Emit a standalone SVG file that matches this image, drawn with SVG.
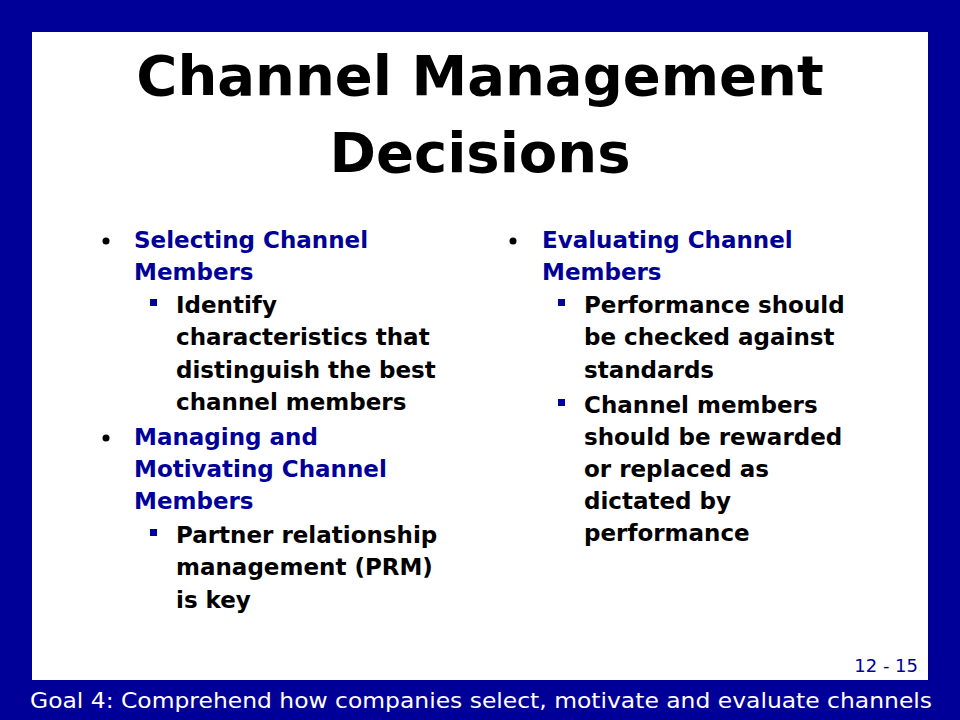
<svg xmlns="http://www.w3.org/2000/svg" width="960" height="720" viewBox="0 0 960 720">
<style>
.t{font-family:"DejaVu Sans",Verdana,sans-serif;font-weight:bold;font-size:56px;fill:#000;text-anchor:middle}
.h{font-family:"DejaVu Sans",Verdana,sans-serif;font-weight:bold;font-size:23px;fill:#000099}
.s{font-family:"DejaVu Sans",Verdana,sans-serif;font-weight:bold;font-size:23px;fill:#000}
.sq{fill:#000099}
</style>
<rect x="0" y="0" width="960" height="720" fill="#000099"/>
<rect x="32" y="32" width="896" height="648" fill="#fff"/>
<text class="t" x="480" y="95">Channel Management</text>
<text class="t" x="480" y="172">Decisions</text>
<g id="left">
<circle cx="106" cy="241" r="3.5" fill="#000"/>
<text class="h" x="134" y="248">Selecting Channel</text>
<text class="h" x="134" y="280">Members</text>
<rect class="sq" x="150" y="299" width="7" height="7"/>
<text class="s" x="176" y="313">Identify</text>
<text class="s" x="176" y="345">characteristics that</text>
<text class="s" x="176" y="378">distinguish the best</text>
<text class="s" x="176" y="410">channel members</text>
<circle cx="106" cy="438" r="3.5" fill="#000"/>
<text class="h" x="134" y="445">Managing and</text>
<text class="h" x="134" y="477">Motivating Channel</text>
<text class="h" x="134" y="509">Members</text>
<rect class="sq" x="150" y="529" width="7" height="7"/>
<text class="s" x="176" y="543">Partner relationship</text>
<text class="s" x="176" y="575">management (PRM)</text>
<text class="s" x="176" y="608">is key</text>
</g>
<g id="right">
<circle cx="513" cy="241" r="3.5" fill="#000"/>
<text class="h" x="542" y="248">Evaluating Channel</text>
<text class="h" x="542" y="280">Members</text>
<rect class="sq" x="558" y="299" width="7" height="7"/>
<text class="s" x="584" y="313">Performance should</text>
<text class="s" x="584" y="345">be checked against</text>
<text class="s" x="584" y="378">standards</text>
<rect class="sq" x="558" y="399" width="7" height="7"/>
<text class="s" x="584" y="413">Channel members</text>
<text class="s" x="584" y="445">should be rewarded</text>
<text class="s" x="584" y="477">or replaced as</text>
<text class="s" x="584" y="509">dictated by</text>
<text class="s" x="584" y="541">performance</text>
</g>
<text x="918" y="672" font-family="DejaVu Sans,Verdana,sans-serif" font-size="18" fill="#000099" text-anchor="end">12 - 15</text>
<text x="30" y="708" font-family="DejaVu Sans,Verdana,sans-serif" font-size="21" fill="#fff" textLength="902" lengthAdjust="spacingAndGlyphs">Goal 4:  Comprehend how companies select, motivate and evaluate channels</text>
</svg>
